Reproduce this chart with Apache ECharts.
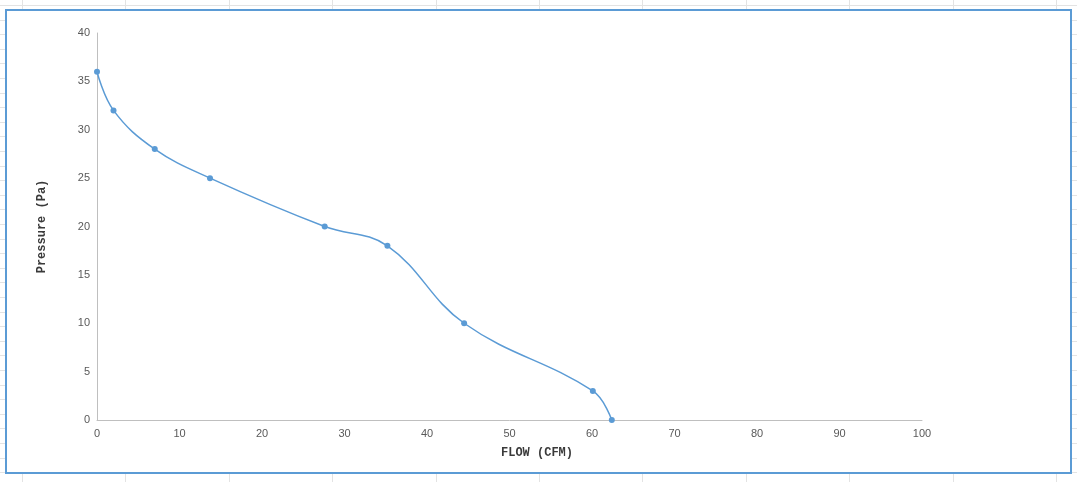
<!DOCTYPE html>
<html>
<head>
<meta charset="utf-8">
<script src="https://cdn.jsdelivr.net/npm/echarts@6/dist/echarts.min.js"></script>
<style>
  html, body { margin: 0; padding: 0; width: 1077px; height: 482px; overflow: hidden; }
  body {
    background-color: #ffffff;
    background-image:
      repeating-linear-gradient(to bottom, transparent 0px, transparent 5px, #e3e3e3 5px, #e3e3e3 6px, transparent 6px, transparent 14.6px),
      repeating-linear-gradient(to right, transparent 0px, transparent 22px, #e3e3e3 22px, #e3e3e3 23px, transparent 23px, transparent 103.4px);
  }
  #frame {
    position: absolute; left: 5px; top: 9px; width: 1063px; height: 461px;
    border: 2px solid #5b9bd5; background: #ffffff;
  }
  #chart { position: absolute; left: 0; top: 0; width: 1077px; height: 482px; }
</style>
</head>
<body>
<div id="frame"></div>
<div id="chart"></div>
<script>
const flow = [0, 2, 7, 13.7, 27.6, 35.2, 44.5, 60.1, 62.4];
const pressure = [36, 32, 28, 25, 20, 18, 10, 3, 0];
const xAxisName = 'FLOW (CFM)';
const yAxisName = 'Pressure (Pa)';

const points = flow.map((f, i) => [f, pressure[i]]);

const chart = echarts.init(document.getElementById('chart'), null, { renderer: 'canvas' });
chart.setOption({
  backgroundColor: 'transparent',
  animation: false,
  grid: { left: 97, right: 155, top: 33, bottom: 62, containLabel: false },
  xAxis: {
    type: 'value', min: 0, max: 100, interval: 10,
    name: xAxisName, nameLocation: 'middle', nameGap: 27,
    nameTextStyle: { fontFamily: 'Liberation Mono', fontSize: 12, fontWeight: 'bold', color: '#3a3a3a', padding: [0, 0, 0, 55] },
    axisLine: { show: true, lineStyle: { color: '#bfbfbf', width: 1 } },
    axisTick: { show: false },
    splitLine: { show: false },
    axisLabel: { color: '#595959', fontSize: 11, fontFamily: 'Liberation Sans', margin: 8 }
  },
  yAxis: {
    type: 'value', min: 0, max: 40, interval: 5,
    name: yAxisName, nameLocation: 'middle', nameGap: 49, nameRotate: 90,
    nameTextStyle: { fontFamily: 'Liberation Mono', fontSize: 12, fontWeight: 'bold', color: '#3a3a3a' },
    axisLine: { show: true, lineStyle: { color: '#bfbfbf', width: 1 } },
    axisTick: { show: false },
    splitLine: { show: false },
    axisLabel: { color: '#595959', fontSize: 11, fontFamily: 'Liberation Sans', margin: 7 }
  },
  series: [{
    type: 'line',
    data: points,
    smooth: 0.4,
    symbol: 'circle',
    symbolSize: 6,
    lineStyle: { color: '#5b9bd5', width: 1.5 },
    itemStyle: { color: '#5b9bd5' }
  }]
});
</script>
</body>
</html>
